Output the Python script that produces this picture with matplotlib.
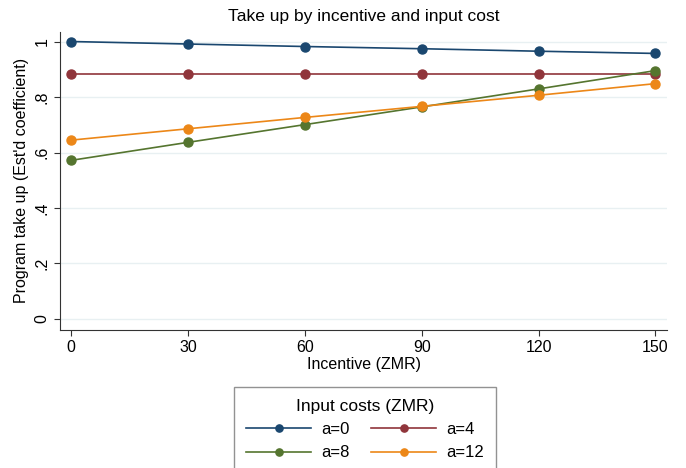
import numpy as np
import matplotlib.pyplot as plt

incentive = [0, 30, 60, 90, 120, 150]
a0 = [1.001, 0.992, 0.983, 0.975, 0.966, 0.958]
a4 = [0.883, 0.883, 0.883, 0.883, 0.883, 0.883]
a8 = [0.572, 0.637, 0.701, 0.765, 0.830, 0.896]
a12 = [0.645, 0.686, 0.727, 0.767, 0.807, 0.849]
series = [("a=0", a0, "#1a476f"), ("a=4", a4, "#90353b"),
          ("a=8", a8, "#55752f"), ("a=12", a12, "#ec8718")]
yticks = [0, 0.2, 0.4, 0.6, 0.8, 1]
ytick_labels = ["0", ".2", ".4", ".6", ".8", "1"]

plt.rcParams['font.family'] = ['Liberation Sans', 'DejaVu Sans']

fig = plt.figure(figsize=(6.86, 4.68), dpi=100)
ax = fig.add_axes([0.0875, 0.295, 0.885, 0.637])

lines = []
for name, vals, col in series:
    ln, = ax.plot(incentive, vals, color=col, lw=1.2, marker='o', ms=6.5, label=name)
    lines.append(ln)

ax.set_xlim(-2.8, 153)
ax.set_ylim(-0.04, 1.036)
ax.set_xticks(incentive)
ax.set_yticks(yticks)
ax.set_yticklabels(ytick_labels, rotation=90, va='center')
ax.tick_params(labelsize=11.5, length=4, color='#333333')
ax.grid(axis='y', color='#e8f0f2', lw=1)
ax.set_axisbelow(True)
for s in ['top', 'right']:
    ax.spines[s].set_visible(False)
ax.spines['left'].set_color('#333333')
ax.spines['bottom'].set_color('#333333')

ax.set_xlabel("Incentive (ZMR)", fontsize=11.5, labelpad=1)
ax.set_ylabel("Program take up (Est'd coefficient)", fontsize=11.5, labelpad=4)
ax.set_title("Take up by incentive and input cost", fontsize=12.5, pad=8)

# stata fills legend row by row
order = [0, 2, 1, 3]
leg = fig.legend([lines[i] for i in order], [series[i][0] for i in order],
                 loc='upper center', bbox_to_anchor=(0.532, 0.173), ncol=2,
                 title="Input costs (ZMR)", fontsize=12, title_fontsize=12.5,
                 handlelength=3.9, handletextpad=0.6, numpoints=1,
                 frameon=True, fancybox=False, edgecolor='#777777',
                 columnspacing=1.3, borderpad=0.7, labelspacing=0.5,
                 markerscale=0.8, borderaxespad=0)
leg.get_frame().set_linewidth(1)

fig.savefig("out.png", dpi=100)
